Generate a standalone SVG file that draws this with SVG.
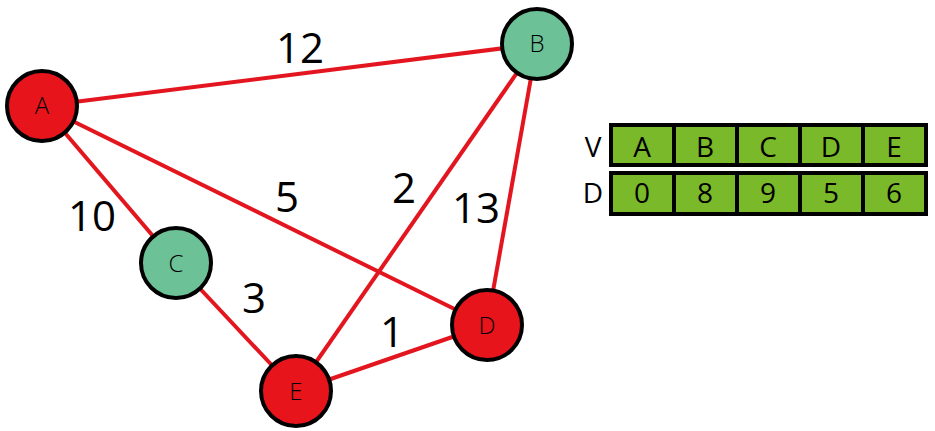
<svg xmlns="http://www.w3.org/2000/svg" width="935" height="431" viewBox="0 0 935 431">
<style>
.edge{stroke:#e3161f;stroke-width:4;fill:none}
.red{fill:#e8141c;stroke:#000;stroke-width:4}
.green{fill:#6cc196;stroke:#000;stroke-width:4}
.nl{font-family:"Open Sans","DejaVu Sans",sans-serif;font-size:24px;text-anchor:middle;fill:#000;font-weight:300}
.el{font-family:"Open Sans","DejaVu Sans",sans-serif;font-size:42px;text-anchor:middle;fill:#000}
.cell{fill:#7ab929;stroke:#000;stroke-width:4}
.tl{font-family:"Open Sans","DejaVu Sans",sans-serif;font-size:28px;text-anchor:middle;fill:#000}
</style>
<rect width="935" height="431" fill="#fff"/>
<g id="connectors">
<line class="edge" x1="42" y1="106" x2="537" y2="44"/>
<line class="edge" x1="42" y1="106" x2="176" y2="263"/>
<line class="edge" x1="42" y1="106" x2="487" y2="325"/>
<line class="edge" x1="537" y1="44" x2="296" y2="391"/>
<line class="edge" x1="537" y1="44" x2="487" y2="325"/>
<line class="edge" x1="176" y1="263" x2="296" y2="391"/>
<line class="edge" x1="296" y1="391" x2="487" y2="325"/>
<text class="el" x="300" y="63">12</text>
<text class="el" x="92" y="231">10</text>
<text class="el" x="287" y="212">5</text>
<text class="el" x="404" y="203">2</text>
<text class="el" x="476" y="223">13</text>
<text class="el" x="254" y="313">3</text>
<text class="el" x="392" y="347">1</text>
</g>
<g id="A"><circle class="red" cx="42" cy="106" r="35"/><text class="nl" x="42" y="114">A</text></g>
<g id="B"><circle class="green" cx="537" cy="44" r="35"/><text class="nl" x="537" y="52">B</text></g>
<g id="C"><circle class="green" cx="176" cy="263" r="35"/><text class="nl" x="176" y="272">C</text></g>
<g id="D"><circle class="red" cx="487" cy="325" r="35"/><text class="nl" x="487" y="334">D</text></g>
<g id="E"><circle class="red" cx="296" cy="391" r="35"/><text class="nl" x="296" y="400">E</text></g>
<g id="table">
<text class="tl" x="593" y="157">V</text>
<text class="tl" x="593" y="203">D</text>
<rect class="cell" x="611" y="125" width="63" height="40"/>
<rect class="cell" x="674" y="125" width="63" height="40"/>
<rect class="cell" x="737" y="125" width="63" height="40"/>
<rect class="cell" x="800" y="125" width="63" height="40"/>
<rect class="cell" x="863" y="125" width="63" height="40"/>
<rect class="cell" x="611" y="173" width="63" height="41"/>
<rect class="cell" x="674" y="173" width="63" height="41"/>
<rect class="cell" x="737" y="173" width="63" height="41"/>
<rect class="cell" x="800" y="173" width="63" height="41"/>
<rect class="cell" x="863" y="173" width="63" height="41"/>
<text class="tl" x="642" y="157">A</text>
<text class="tl" x="705" y="157">B</text>
<text class="tl" x="768" y="157">C</text>
<text class="tl" x="831" y="157">D</text>
<text class="tl" x="894" y="157">E</text>
<text class="tl" x="642" y="203">0</text>
<text class="tl" x="705" y="203">8</text>
<text class="tl" x="768" y="203">9</text>
<text class="tl" x="831" y="203">5</text>
<text class="tl" x="894" y="203">6</text>
</g>
</svg>
